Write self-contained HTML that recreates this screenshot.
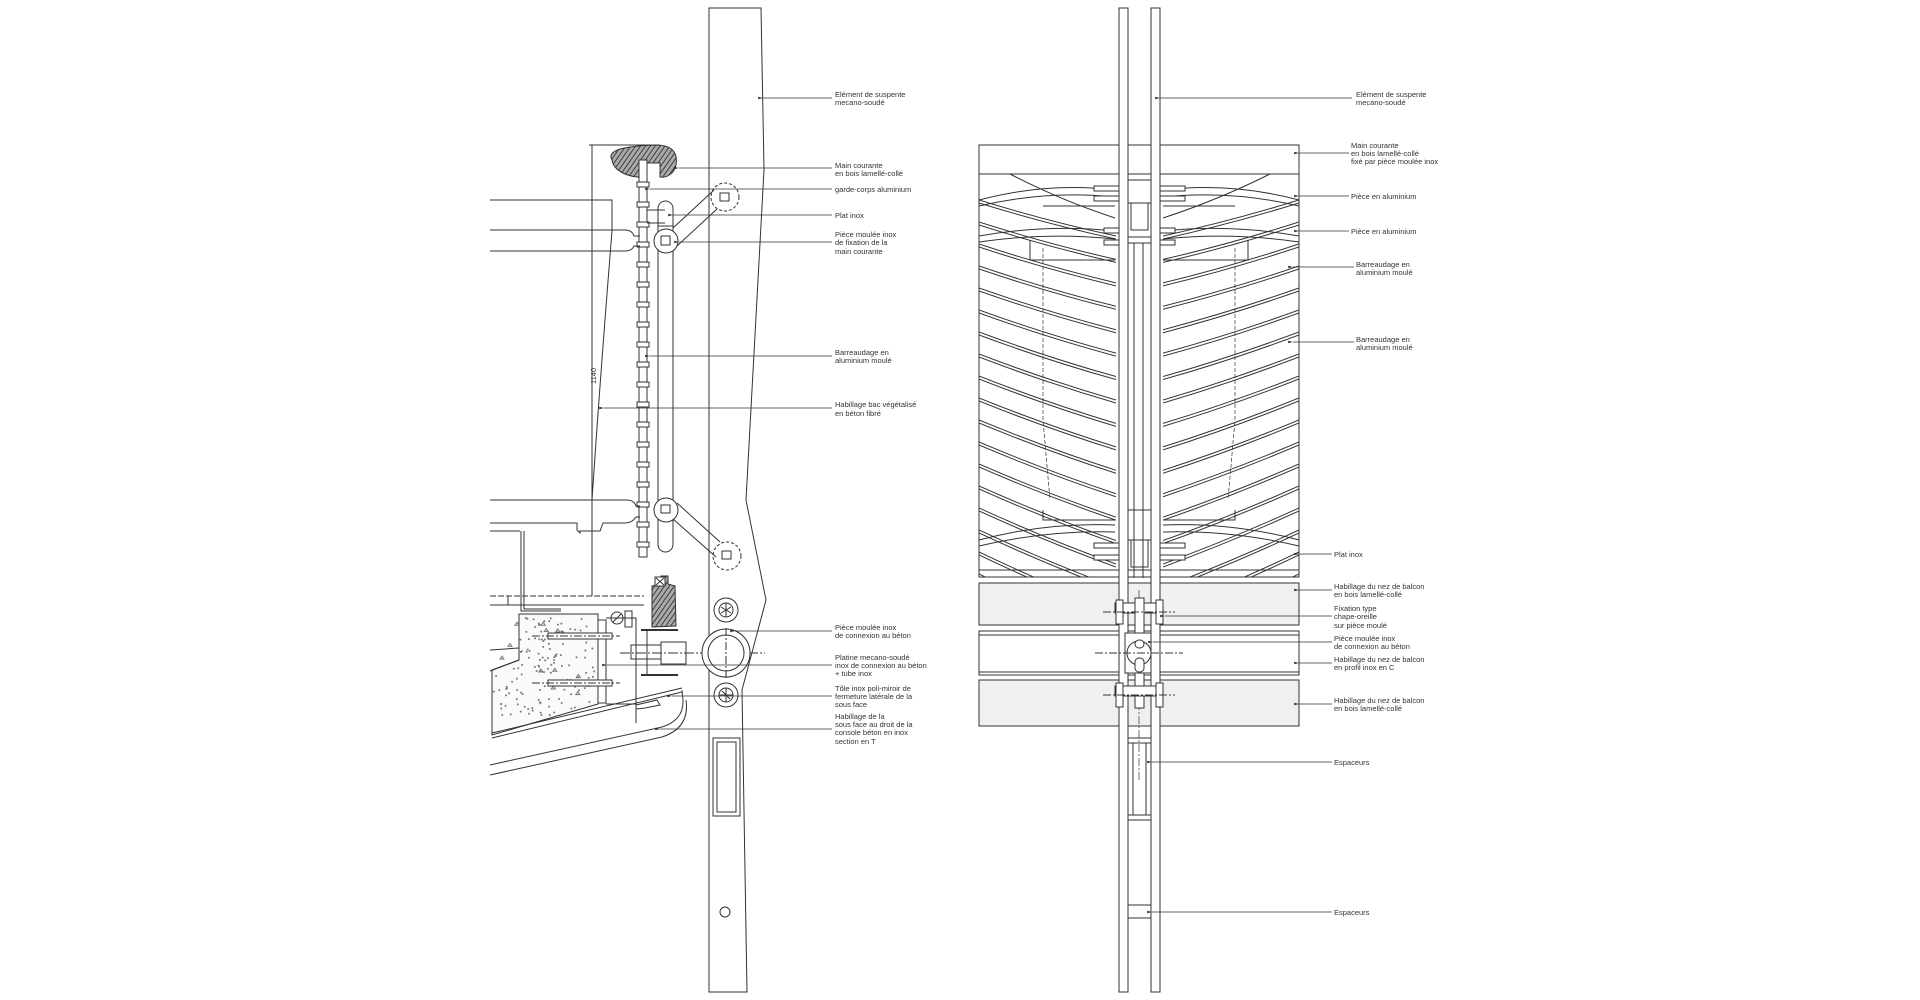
<!DOCTYPE html>
<html><head><meta charset="utf-8"><style>
html,body{margin:0;padding:0;background:#fff;width:1920px;height:1000px;overflow:hidden}
svg{display:block}
text{font-family:"Liberation Sans",sans-serif;font-size:7.5px;fill:#333}
</style></head><body>
<svg id="s" width="1920" height="1000" viewBox="0 0 1920 1000" xmlns="http://www.w3.org/2000/svg">
<defs>
<pattern id="hatch" width="4" height="4" patternUnits="userSpaceOnUse" patternTransform="rotate(35)"><rect width="4" height="4" fill="#aaa"/><line x1="0" y1="0" x2="0" y2="4" stroke="#222" stroke-width="1.6"/></pattern>
<clipPath id="cl"><rect x="979" y="174" width="137" height="403"/></clipPath>
<clipPath id="cr"><rect x="1163" y="174" width="136" height="403"/></clipPath>
<marker id="ar" markerWidth="6" markerHeight="4" refX="0" refY="2" orient="auto-start-reverse"><path d="M0,2 L6,0.5 L6,3.5 Z" fill="#333"/></marker>
</defs>
<g fill="none" stroke="#333" stroke-width="1">
<path d="M709,8 L761,8 L764,170 L746,500 L766,600 L742,690 L747,992 L709,992 Z" fill="#fff"/>
<path d="M709,580 L709,700"/>
<line x1="592" y1="145" x2="592" y2="596"/>
<line x1="589" y1="145" x2="660" y2="145"/>
<text x="0" y="0" transform="translate(596,384) rotate(-90)" stroke="none">1140</text>
<path d="M612,160 C606,150 625,146 655,145 C672,145 678,152 676,165 C674,175 665,178 660,177 L660,163 L645,163 L645,177 C630,178 614,172 612,160 Z" fill="url(#hatch)"/>
<rect x="639" y="160" width="8" height="397" fill="#fff"/>
<g id="ticks"></g>
<rect x="658" y="201" width="15" height="351" rx="7.5" fill="#fff"/>
<line x1="658" y1="226" x2="673" y2="226"/>
<path d="M647,210 L665,210 M647,223 L665,223"/>
<circle cx="666" cy="241" r="12" fill="#fff"/>
<rect x="661" y="236" width="9" height="9"/>
<circle cx="725" cy="197" r="14" stroke-dasharray="3,2"/>
<rect x="720" y="193" width="9" height="8"/>
<line x1="673" y1="228" x2="714" y2="190"/><line x1="677" y1="246" x2="717" y2="209"/>
<circle cx="666" cy="510" r="12" fill="#fff"/>
<rect x="661" y="505" width="9" height="8"/>
<circle cx="727" cy="556" r="14" stroke-dasharray="3,2"/>
<rect x="722" y="551" width="9" height="8"/>
<line x1="673" y1="519" x2="716" y2="557"/><line x1="677" y1="503" x2="720" y2="542"/>
<path d="M490,200 L612,200 L612,231"/>
<path d="M490,230 L625,230 Q632,230 634,236 L640,236"/>
<path d="M490,251 L625,251 Q632,251 634,246 L640,246"/>
<path d="M612,231 Q600,380 592,500"/>
<path d="M490,500 L627,500 Q634,500 636,506 L640,506"/>
<path d="M490,523 L577,523 L577,530 L580,533 L580,531 L600,531 L603,523 L625,523 Q632,523 636,517 L640,517"/>
<path d="M490,531 L520,531"/>
<path d="M521,531 L521,611 L561,611 M524,531 L524,609 L561,609"/>
<path d="M490,596 L644,596" stroke-dasharray="6,2"/>
<path d="M490,605 L644,605"/>
<line x1="508" y1="596" x2="508" y2="605"/>
<path d="M652,586 L660,584 L661,576 L668,576 L668,584 L675,586 L676,626 L652,627 Z" fill="url(#hatch)"/>
<rect x="655" y="577" width="10" height="9" fill="#fff"/>
<line x1="656" y1="578" x2="664" y2="585"/><line x1="664" y1="578" x2="656" y2="585"/>
<line x1="641" y1="630" x2="678" y2="630" stroke-width="2"/>
<line x1="641" y1="675" x2="678" y2="675" stroke-width="2"/>
<circle cx="617" cy="618" r="6"/><line x1="613" y1="622" x2="621" y2="614"/>
<rect x="625" y="611" width="7" height="16"/>
<path d="M519,614 L598,614 L598,704 L492,735 L492,670 L519,660 Z" fill="#fafafa"/>
<path d="M490,650 L519,648 M490,671 L519,660"/>
<g id="stip" stroke="#777"></g>
<rect x="598" y="620" width="8" height="83" fill="#fff"/>
<rect x="548" y="633" width="64" height="6" fill="#fff"/><rect x="548" y="680" width="64" height="6" fill="#fff"/>
<line x1="532" y1="636" x2="620" y2="636" stroke-dasharray="8,2,2,2"/>
<line x1="532" y1="683" x2="620" y2="683" stroke-dasharray="8,2,2,2"/>
<path d="M647,630 L647,675 L678,675"/>
<rect x="631" y="645" width="30" height="14"/><rect x="661" y="642" width="25" height="22"/>
<line x1="620" y1="653" x2="765" y2="653" stroke-dasharray="10,2,2,2"/>
<path d="M606,618 L636,618 L636,723 M606,704 L636,704"/>
<path d="M492,733 L682,688 M492,738 L682,692"/>
<path d="M636,705 L657,700 L660,705 L645,708 L636,709"/>
<path d="M490,765 L662,727 Q684,720 683,700 L682,690"/>
<path d="M490,775 L662,737 Q690,728 686,700"/>
<circle cx="726" cy="653" r="24" fill="#fff"/><circle cx="726" cy="653" r="18"/>
<line x1="726" y1="628" x2="726" y2="678" stroke-dasharray="8,2,2,2"/>
<circle cx="726" cy="610" r="12" fill="#fff"/><circle cx="726" cy="610" r="7"/>
<path d="M721,607 L731,613 M721,613 L731,607 M726,603 L726,617"/>
<circle cx="726" cy="695" r="12" fill="#fff"/><circle cx="726" cy="695" r="7"/>
<path d="M719,695 L733,695 M726,688 L726,702 M722,691 L730,699"/>
<rect x="713" y="738" width="27" height="78"/><rect x="717" y="742" width="19" height="70"/>
<circle cx="725" cy="912" r="5"/>
<g stroke-width="0.8" marker-start="url(#ar)">
<line x1="763" y1="98" x2="832" y2="98"/><line x1="679" y1="168" x2="832" y2="168"/>
<line x1="650" y1="189" x2="832" y2="189"/><line x1="673" y1="215" x2="832" y2="215"/>
<line x1="679" y1="242" x2="832" y2="242"/><line x1="650" y1="356" x2="832" y2="356"/>
<line x1="604" y1="408" x2="832" y2="408"/><line x1="735" y1="631" x2="832" y2="631"/>
<line x1="607" y1="665" x2="832" y2="665"/><line x1="672" y1="696" x2="832" y2="696"/>
<line x1="660" y1="729" x2="832" y2="729"/>
</g>

<rect x="979" y="145" width="320" height="432" fill="#fff"/>
<line x1="979" y1="174" x2="1299" y2="174"/>
<g id="bars" stroke-width="1"></g>
<g stroke-dasharray="4,2" stroke-width="0.7">
<path d="M1043,248 L1043,420 L1050,500 M1235,248 L1235,420 L1228,500"/>
</g>
<path d="M1043,206 L1115,206 M1163,206 L1235,206 M1030,240 L1030,260 L1115,260 M1248,240 L1248,260 L1163,260 M1043,510 L1043,520 L1115,520 M1235,510 L1235,520 L1163,520"/>
<path d="M979,200 Q1047,182 1115,190 M979,206 Q1047,190 1115,197 M1163,190 Q1231,182 1299,200 M1163,197 Q1231,190 1299,206"/>
<path d="M979,236 Q1047,224 1115,231 M979,242 Q1047,232 1115,239 M1163,231 Q1231,224 1299,236 M1163,239 Q1231,232 1299,242"/>
<path d="M979,540 Q1047,522 1115,525 M979,546 Q1047,530 1115,532 M1163,525 Q1231,522 1299,540 M1163,532 Q1231,530 1299,546"/>
<path d="M1010,174 Q1060,200 1115,218 M1270,174 Q1218,200 1163,218"/>
<rect x="1094" y="186" width="25" height="5" fill="#fff"/><rect x="1094" y="196" width="25" height="5" fill="#fff"/>
<rect x="1160" y="186" width="25" height="5" fill="#fff"/><rect x="1160" y="196" width="25" height="5" fill="#fff"/>
<rect x="1104" y="228" width="15" height="5" fill="#fff"/><rect x="1104" y="240" width="15" height="5" fill="#fff"/>
<rect x="1160" y="228" width="15" height="5" fill="#fff"/><rect x="1160" y="240" width="15" height="5" fill="#fff"/>
<rect x="1094" y="543" width="25" height="5" fill="#fff"/><rect x="1094" y="555" width="25" height="5" fill="#fff"/>
<rect x="1160" y="543" width="25" height="5" fill="#fff"/><rect x="1160" y="555" width="25" height="5" fill="#fff"/>
<line x1="979" y1="570" x2="1299" y2="570"/>
<rect x="979" y="583" width="320" height="42" fill="#f0f0f0"/>
<rect x="979" y="631" width="320" height="44" fill="#fff"/><line x1="979" y1="635" x2="1299" y2="635"/><line x1="979" y1="672" x2="1299" y2="672"/>
<rect x="979" y="680" width="320" height="46" fill="#f0f0f0"/>
<rect x="1119" y="8" width="9" height="984" fill="#fff"/>
<rect x="1151" y="8" width="9" height="984" fill="#fff"/>
<rect x="1128" y="180" width="23" height="23" fill="#fff"/><rect x="1131" y="203" width="17" height="27"/>
<line x1="1128" y1="237" x2="1151" y2="237"/><line x1="1128" y1="243" x2="1151" y2="243"/>
<path d="M1134,243 L1134,578 M1143,243 L1143,578"/>
<rect x="1128" y="510" width="23" height="30"/><rect x="1131" y="540" width="17" height="27"/>
<path d="M1139,590 L1139,780" stroke-dasharray="8,2,2,2" stroke-width="0.7"/>
<rect x="1115" y="603" width="48" height="10" fill="#fff"/>
<rect x="1116" y="600" width="7" height="24" fill="#fff"/><rect x="1156" y="600" width="7" height="24" fill="#fff"/>
<rect x="1135" y="598" width="9" height="110" fill="#fff"/>
<line x1="1103" y1="612" x2="1175" y2="612" stroke-dasharray="8,2,2,2"/>
<rect x="1125" y="633" width="26" height="40" fill="#fff"/>
<circle cx="1139" cy="653" r="12" fill="#fff"/>
<rect x="1135" y="640" width="9" height="8" rx="4" fill="#fff"/><rect x="1135" y="658" width="9" height="14" rx="4" fill="#fff"/>
<line x1="1095" y1="653" x2="1183" y2="653" stroke-dasharray="8,2,2,2"/>
<rect x="1115" y="686" width="48" height="10" fill="#fff"/>
<rect x="1116" y="683" width="7" height="24" fill="#fff"/><rect x="1156" y="683" width="7" height="24" fill="#fff"/>
<line x1="1103" y1="695" x2="1175" y2="695" stroke-dasharray="8,2,2,2"/>
<path d="M1128,738 L1151,738 M1128,743 L1151,743 M1133,743 L1133,815 M1146,743 L1146,815 M1128,815 L1151,815 M1128,820 L1151,820 M1128,905 L1151,905 M1128,918 L1151,918"/>
<g stroke-width="0.8" marker-start="url(#ar)">
<line x1="1160" y1="98" x2="1352" y2="98"/><line x1="1299" y1="153" x2="1349" y2="153"/>
<line x1="1299" y1="196" x2="1349" y2="196"/><line x1="1299" y1="231" x2="1349" y2="231"/>
<line x1="1293" y1="267" x2="1354" y2="267"/><line x1="1293" y1="342" x2="1354" y2="342"/>
<line x1="1299" y1="554" x2="1332" y2="554"/><line x1="1299" y1="590" x2="1332" y2="590"/>
<line x1="1165" y1="616" x2="1332" y2="616"/><line x1="1153" y1="642" x2="1332" y2="642"/>
<line x1="1299" y1="663" x2="1332" y2="663"/><line x1="1299" y1="704" x2="1332" y2="704"/>
<line x1="1152" y1="762" x2="1332" y2="762"/><line x1="1152" y1="912" x2="1332" y2="912"/>
</g>
</g>
<g stroke="none">
<text x="835" y="97">Elément de  suspente</text><text x="835" y="105">mecano-soudé</text>
<text x="835" y="168">Main courante</text><text x="835" y="176">en bois lamellé-collé</text>
<text x="835" y="192">garde-corps aluminium</text>
<text x="835" y="218">Plat inox</text>
<text x="835" y="237">Pièce moulée inox</text><text x="835" y="245">de fixation de la</text><text x="835" y="254">main courante</text>
<text x="835" y="355">Barreaudage en</text><text x="835" y="363">aluminium moulé</text>
<text x="835" y="407">Habillage bac végétalisé</text><text x="835" y="416">en béton fibré</text>
<text x="835" y="630">Pièce moulée inox</text><text x="835" y="638">de connexion au béton</text>
<text x="835" y="660">Platine mecano-soudé</text><text x="835" y="668">inox de connexion au béton</text><text x="835" y="676">+ tube inox</text>
<text x="835" y="691">Tôle inox poli-miroir de</text><text x="835" y="699">fermeture latérale de la</text><text x="835" y="707">sous face</text>
<text x="835" y="719">Habillage de la</text><text x="835" y="727">sous face au droit de la</text><text x="835" y="735">console béton en inox</text><text x="835" y="744">section en T</text>
<text x="1356" y="97">Elément de  suspente</text><text x="1356" y="105">mecano-soudé</text>
<text x="1351" y="148">Main courante</text><text x="1351" y="156">en bois lamellé-collé</text><text x="1351" y="164">fixé par pièce moulée inox</text>
<text x="1351" y="199">Pièce en aluminium</text>
<text x="1351" y="234">Pièce en aluminium</text>
<text x="1356" y="267">Barreaudage en</text><text x="1356" y="275">aluminium moulé</text>
<text x="1356" y="342">Barreaudage en</text><text x="1356" y="350">aluminium moulé</text>
<text x="1334" y="557">Plat inox</text>
<text x="1334" y="589">Habillage du nez de balcon</text><text x="1334" y="597">en bois lamellé-collé</text>
<text x="1334" y="611">Fixation type</text><text x="1334" y="619">chape-oreille</text><text x="1334" y="628">sur pièce moulé</text>
<text x="1334" y="641">Pièce moulée inox</text><text x="1334" y="649">de connexion au béton</text>
<text x="1334" y="662">Habillage du nez de balcon</text><text x="1334" y="670">en profil inox en C</text>
<text x="1334" y="703">Habillage du nez de balcon</text><text x="1334" y="711">en bois lamellé-collé</text>
<text x="1334" y="765">Espaceurs</text>
<text x="1334" y="915">Espaceurs</text>
</g>
</svg>
<script>
var NS="http://www.w3.org/2000/svg";
function el(p,t,a){var e=document.createElementNS(NS,t);for(var k in a)e.setAttribute(k,a[k]);p.appendChild(e);return e;}
var tk=document.getElementById('ticks');
for(var y=182;y<545;y+=20){el(tk,'rect',{x:637,y:y,width:12,height:5,fill:'#fff'});}
var st=document.getElementById('stip');
var seed=7;function r(){seed=(seed*9301+49297)%233280;return seed/233280;}
for(var i=0;i<160;i++){var x=493+r()*104,yy=616+r()*100;if(yy>735-(x-492)*0.29||(x<519&&yy<662))continue;el(st,'circle',{cx:x,cy:yy,r:0.5});}
for(var i=0;i<12;i++){var x=500+r()*90,yy=625+r()*70;el(st,'path',{d:'M'+x+','+yy+' l2,-3 l2,3 z'});}
var b=document.getElementById('bars');
var gl=el(b,'g',{'clip-path':'url(#cl)'}),gr=el(b,'g',{'clip-path':'url(#cr)'});
for(var y0=200;y0<600;y0+=22){
 var t=(y0-200)/400, dy=36+t*26, c=3;
 for(var o=0;o<2;o++){
  var yy=y0+o*3;
  el(gl,'path',{d:'M979,'+yy+' Q1047,'+(yy+dy/2+c)+' 1116,'+(yy+dy)});
  el(gr,'path',{d:'M1299,'+yy+' Q1231,'+(yy+dy/2+c)+' 1163,'+(yy+dy)});
 }
}
</script>
</body></html>
